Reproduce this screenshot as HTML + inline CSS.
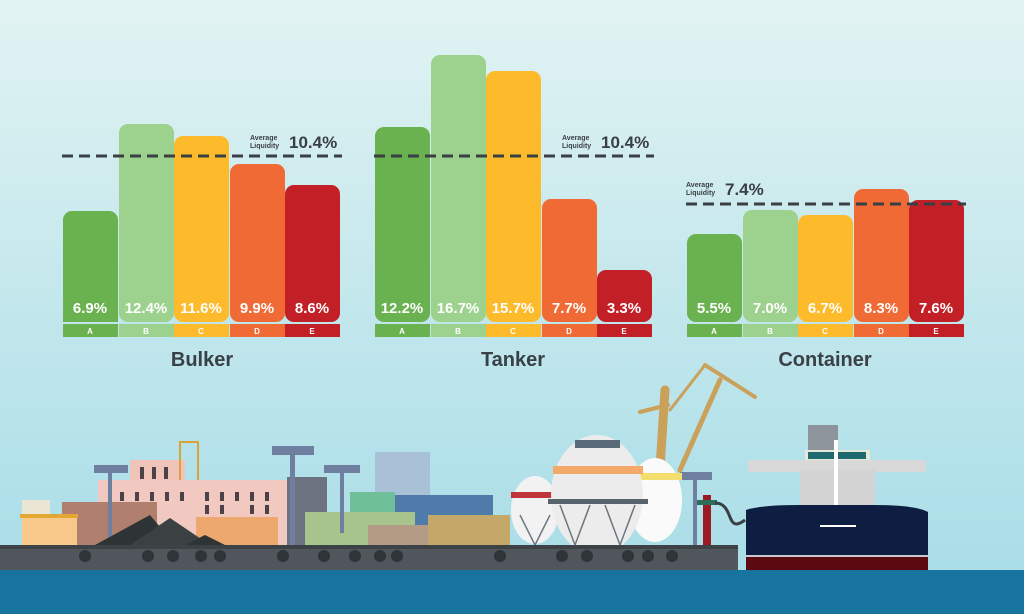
<!DOCTYPE html>
<html><head><meta charset="utf-8"><style>
html,body{margin:0;padding:0;width:1024px;height:614px;overflow:hidden}
svg{display:block}
text{font-family:"Liberation Sans",sans-serif;font-weight:bold}
</style></head><body>
<svg width="1024" height="614" viewBox="0 0 1024 614" xmlns="http://www.w3.org/2000/svg">
<defs>
<linearGradient id="bg" x1="0" y1="0" x2="0" y2="1">
<stop offset="0" stop-color="#e2f3f3"/><stop offset="0.5" stop-color="#c2e7ec"/><stop offset="1" stop-color="#a6dce7"/>
</linearGradient>
</defs>
<rect width="1024" height="614" fill="url(#bg)"/>

<!-- Bulker -->
<g>
<rect x="63" y="211" width="55" height="111" rx="9" fill="#6ab150"/>
<rect x="63" y="300" width="55" height="22" fill="#6ab150"/>
<rect x="119" y="124" width="55" height="198" rx="9" fill="#9dd18e"/>
<rect x="174" y="136" width="55" height="186" rx="9" fill="#fdbb2b"/>
<rect x="230" y="164" width="55" height="158" rx="9" fill="#ef6a35"/>
<rect x="285" y="185" width="55" height="137" rx="9" fill="#c21f27"/>
<rect x="63" y="300" width="277" height="22" fill="none"/>
<rect x="63" y="324" width="55" height="13" fill="#6ab150"/><rect x="119" y="324" width="55" height="13" fill="#9dd18e"/><rect x="174" y="324" width="55" height="13" fill="#fdbb2b"/><rect x="230" y="324" width="55" height="13" fill="#ef6a35"/><rect x="285" y="324" width="55" height="13" fill="#c21f27"/>
<g fill="#fff" font-size="15" text-anchor="middle"><text x="90" y="313">6.9%</text><text x="146" y="313">12.4%</text><text x="201" y="313">11.6%</text><text x="257" y="313">9.9%</text><text x="312" y="313">8.6%</text></g>
<g fill="#fff" font-size="8" text-anchor="middle"><text x="90" y="334">A</text><text x="146" y="334">B</text><text x="201" y="334">C</text><text x="257" y="334">D</text><text x="312" y="334">E</text></g>
<line x1="62" y1="156" x2="342" y2="156" stroke="#3a3f44" stroke-width="3" stroke-dasharray="11,6"/>
<text x="250" y="140" font-size="7" fill="#3a3f44">Average</text><text x="250" y="148" font-size="7" fill="#3a3f44">Liquidity</text>
<text x="289" y="148" font-size="17" fill="#3a3f44">10.4%</text>
<text x="202" y="366" font-size="20" fill="#3a4048" text-anchor="middle">Bulker</text>
</g>

<!-- Tanker -->
<g>
<rect x="375" y="127" width="55" height="195" rx="9" fill="#6ab150"/>
<rect x="431" y="55" width="55" height="267" rx="9" fill="#9dd18e"/>
<rect x="486" y="71" width="55" height="251" rx="9" fill="#fdbb2b"/>
<rect x="542" y="199" width="55" height="123" rx="9" fill="#ef6a35"/>
<rect x="597" y="270" width="55" height="52" rx="9" fill="#c21f27"/>
<rect x="375" y="324" width="55" height="13" fill="#6ab150"/><rect x="431" y="324" width="55" height="13" fill="#9dd18e"/><rect x="486" y="324" width="55" height="13" fill="#fdbb2b"/><rect x="542" y="324" width="55" height="13" fill="#ef6a35"/><rect x="597" y="324" width="55" height="13" fill="#c21f27"/>
<g fill="#fff" font-size="15" text-anchor="middle"><text x="402" y="313">12.2%</text><text x="458" y="313">16.7%</text><text x="513" y="313">15.7%</text><text x="569" y="313">7.7%</text><text x="624" y="313">3.3%</text></g>
<g fill="#fff" font-size="8" text-anchor="middle"><text x="402" y="334">A</text><text x="458" y="334">B</text><text x="513" y="334">C</text><text x="569" y="334">D</text><text x="624" y="334">E</text></g>
<line x1="374" y1="156" x2="654" y2="156" stroke="#3a3f44" stroke-width="3" stroke-dasharray="11,6"/>
<text x="562" y="140" font-size="7" fill="#3a3f44">Average</text><text x="562" y="148" font-size="7" fill="#3a3f44">Liquidity</text>
<text x="601" y="148" font-size="17" fill="#3a3f44">10.4%</text>
<text x="513" y="366" font-size="20" fill="#3a4048" text-anchor="middle">Tanker</text>
</g>

<!-- Container -->
<g>
<rect x="687" y="234" width="55" height="88" rx="9" fill="#6ab150"/>
<rect x="743" y="210" width="55" height="112" rx="9" fill="#9dd18e"/>
<rect x="798" y="215" width="55" height="107" rx="9" fill="#fdbb2b"/>
<rect x="854" y="189" width="55" height="133" rx="9" fill="#ef6a35"/>
<rect x="909" y="200" width="55" height="122" rx="9" fill="#c21f27"/>
<rect x="687" y="324" width="55" height="13" fill="#6ab150"/><rect x="743" y="324" width="55" height="13" fill="#9dd18e"/><rect x="798" y="324" width="55" height="13" fill="#fdbb2b"/><rect x="854" y="324" width="55" height="13" fill="#ef6a35"/><rect x="909" y="324" width="55" height="13" fill="#c21f27"/>
<g fill="#fff" font-size="15" text-anchor="middle"><text x="714" y="313">5.5%</text><text x="770" y="313">7.0%</text><text x="825" y="313">6.7%</text><text x="881" y="313">8.3%</text><text x="936" y="313">7.6%</text></g>
<g fill="#fff" font-size="8" text-anchor="middle"><text x="714" y="334">A</text><text x="770" y="334">B</text><text x="825" y="334">C</text><text x="881" y="334">D</text><text x="936" y="334">E</text></g>
<line x1="686" y1="204" x2="966" y2="204" stroke="#3a3f44" stroke-width="3" stroke-dasharray="11,6"/>
<text x="686" y="187" font-size="7" fill="#3a3f44">Average</text><text x="686" y="195" font-size="7" fill="#3a3f44">Liquidity</text>
<text x="725" y="195" font-size="17" fill="#3a3f44">7.4%</text>
<text x="825" y="366" font-size="20" fill="#3a4048" text-anchor="middle">Container</text>
</g>

<!-- Port illustration -->
<g>
<!-- buildings -->
<rect x="130" y="460" width="55" height="30" fill="#f1c4ba"/>
<rect x="180" y="442" width="18" height="40" fill="none" stroke="#d9a23a" stroke-width="2"/>
<rect x="98" y="480" width="190" height="65" fill="#f1c9c0"/>
<rect x="62" y="502" width="95" height="43" fill="#b07f6d"/>
<rect x="22" y="500" width="28" height="18" fill="#eae6d3"/>
<rect x="22" y="515" width="55" height="30" fill="#f9c98b"/>
<rect x="20" y="514" width="58" height="4" fill="#e3a832"/>
<rect x="196" y="517" width="82" height="28" fill="#eda86e"/>
<rect x="287" y="477" width="40" height="68" fill="#6c7280"/>
<rect x="375" y="452" width="55" height="45" fill="#a9c1d6"/>
<rect x="350" y="492" width="45" height="40" fill="#6fbf99"/>
<rect x="395" y="495" width="98" height="40" fill="#4f7bab"/>
<rect x="305" y="512" width="110" height="33" fill="#a8c48d"/>
<rect x="368" y="525" width="72" height="20" fill="#b49b85"/>
<rect x="428" y="515" width="82" height="30" fill="#c4a86a"/>
<!-- light towers -->
<g fill="#6f7fa0"><rect x="94" y="465" width="34" height="8"/><rect x="108" y="473" width="4" height="72"/>
<rect x="272" y="446" width="42" height="9"/><rect x="290" y="455" width="5" height="90"/>
<rect x="324" y="465" width="36" height="8"/><rect x="340" y="473" width="4" height="60"/>
<rect x="680" y="472" width="32" height="8"/><rect x="693" y="480" width="4" height="65"/></g>
<!-- windows -->
<g fill="#4a4246">
<rect x="120" y="492" width="4" height="9"/><rect x="135" y="492" width="4" height="9"/><rect x="150" y="492" width="4" height="9"/><rect x="165" y="492" width="4" height="9"/><rect x="180" y="492" width="4" height="9"/><rect x="205" y="492" width="4" height="9"/><rect x="220" y="492" width="4" height="9"/><rect x="235" y="492" width="4" height="9"/><rect x="250" y="492" width="4" height="9"/><rect x="265" y="492" width="4" height="9"/>
<rect x="205" y="505" width="4" height="9"/><rect x="220" y="505" width="4" height="9"/><rect x="250" y="505" width="4" height="9"/><rect x="265" y="505" width="4" height="9"/>
<rect x="140" y="467" width="4" height="12"/><rect x="152" y="467" width="4" height="12"/><rect x="164" y="467" width="4" height="12"/>
</g>
<!-- coal piles -->
<polygon points="95,545 150,515 175,545" fill="#2e3436"/>
<polygon points="130,545 170,518 210,545" fill="#3b4142"/>
<polygon points="185,545 205,535 225,545" fill="#2e3436"/>
<!-- crane -->
<g stroke="#c9a15a" fill="none" stroke-linecap="round">
<line x1="660" y1="468" x2="665" y2="390" stroke-width="9"/>
<line x1="680" y1="470" x2="720" y2="380" stroke-width="5"/>
<line x1="705" y1="365" x2="755" y2="397" stroke-width="4"/>
<line x1="640" y1="412" x2="668" y2="405" stroke-width="4"/>
<line x1="670" y1="410" x2="705" y2="365" stroke-width="3"/>
</g>
<!-- spheres -->
<ellipse cx="535" cy="510" rx="24" ry="34" fill="#f2f2f2"/>
<rect x="511" y="492" width="48" height="6" fill="#c0343b"/>
<ellipse cx="655" cy="500" rx="27" ry="42" fill="#fafafa"/>
<rect x="630" y="473" width="52" height="7" fill="#f3de6e"/>
<ellipse cx="597" cy="495" rx="46" ry="60" fill="#ececec"/>
<rect x="553" y="466" width="90" height="8" fill="#f4a96a"/>
<rect x="548" y="499" width="100" height="5" fill="#56636b"/>
<rect x="575" y="440" width="45" height="8" fill="#596a78"/>
<g stroke="#6c7780" stroke-width="1.5"><line x1="560" y1="505" x2="575" y2="545"/><line x1="590" y1="505" x2="575" y2="545"/><line x1="605" y1="505" x2="620" y2="545"/><line x1="635" y1="505" x2="620" y2="545"/><line x1="520" y1="515" x2="535" y2="545"/><line x1="550" y1="515" x2="535" y2="545"/></g>
<!-- red hydrant -->
<rect x="703" y="495" width="8" height="50" fill="#9a1b22"/>
<rect x="697" y="500" width="20" height="5" fill="#2c6e5a"/>
<path d="M715,503 C735,503 725,535 745,520" stroke="#3a3f44" stroke-width="3" fill="none"/>
<!-- quay -->
<rect x="0" y="545" width="738" height="25" fill="#50565c"/>
<rect x="0" y="545" width="738" height="4" fill="#3d4247"/>
<g fill="#2f3438"><circle cx="85" cy="556" r="6"/><circle cx="148" cy="556" r="6"/><circle cx="173" cy="556" r="6"/><circle cx="201" cy="556" r="6"/><circle cx="220" cy="556" r="6"/><circle cx="283" cy="556" r="6"/><circle cx="324" cy="556" r="6"/><circle cx="355" cy="556" r="6"/><circle cx="380" cy="556" r="6"/><circle cx="397" cy="556" r="6"/><circle cx="500" cy="556" r="6"/><circle cx="562" cy="556" r="6"/><circle cx="587" cy="556" r="6"/><circle cx="628" cy="556" r="6"/><circle cx="648" cy="556" r="6"/><circle cx="672" cy="556" r="6"/></g>
<!-- ship -->
<rect x="808" y="425" width="30" height="40" fill="#8d949b"/>
<rect x="805" y="450" width="65" height="10" fill="#e5e9d8"/>
<rect x="808" y="452" width="58" height="7" fill="#1f6a70"/>
<rect x="748" y="460" width="178" height="12" fill="#d8d8d8"/>
<rect x="800" y="470" width="75" height="40" fill="#d3d3d3"/>
<rect x="834" y="440" width="4" height="70" fill="#fff"/>
<path d="M746,510 Q760,505 800,505 L875,505 Q915,505 928,512 L928,570 L746,570 Z" fill="#0e1d42"/>
<rect x="746" y="556" width="182" height="14" fill="#5a0a10"/>
<rect x="746" y="555" width="182" height="2" fill="#c9c9cf"/>
<rect x="820" y="525" width="36" height="2" fill="#fff"/>
<!-- water -->
<rect x="0" y="570" width="1024" height="44" fill="#17749e"/>
</g>
</svg>
</body></html>
